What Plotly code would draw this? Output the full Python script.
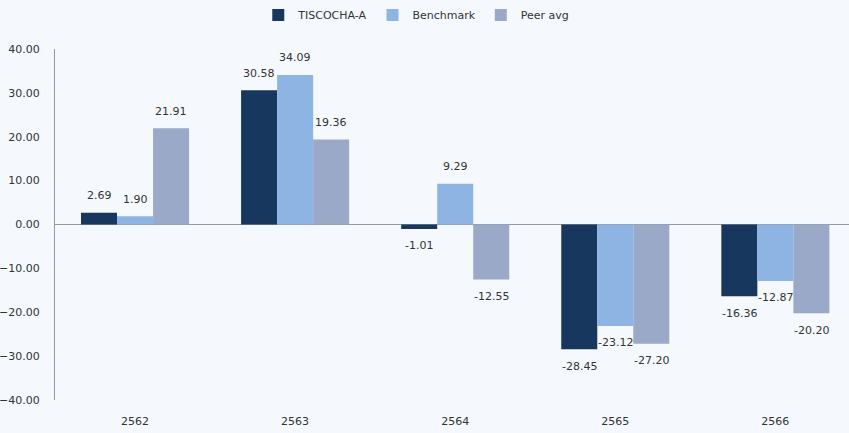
import plotly.graph_objects as go

years = ["2562", "2563", "2564", "2565", "2566"]
fund = [2.69, 30.58, -1.01, -28.45, -16.36]
bench = [1.90, 34.09, 9.29, -23.12, -12.87]
peer = [21.91, 19.36, -12.55, -27.20, -20.20]

names = ["TISCOCHA-A", "Benchmark", "Peer avg"]
colors = ["#17375E", "#8DB4E2", "#9AA9C8"]
series = [fund, bench, peer]

fig = go.Figure()
for n, c, v in zip(names, colors, series):
    fig.add_trace(go.Bar(
        x=years, y=v, name=n, marker=dict(color=c, line=dict(width=0)),
    ))

annotations = []
for i, v in enumerate(series):
    xs = (i - 1) * 36
    for j, val in enumerate(v):
        annotations.append(dict(
            x=j, y=val, xref="x", yref="y", text=f"{val:.2f}", showarrow=False,
            xshift=xs, yshift=(17 if val >= 0 else -17), yanchor="middle",
            font=dict(size=11, color="#333333"),
        ))

bg = "#F5F9FD"
fig.update_layout(
    width=849, height=433,
    paper_bgcolor=bg, plot_bgcolor=bg,
    margin=dict(l=55, r=0, t=49, b=33, autoexpand=False),
    barmode="group", bargap=0.325, bargroupgap=0,
    font=dict(family="DejaVu Sans", size=11, color="#333333"),
    legend=dict(orientation="h", x=0.455, xanchor="center", y=1.097, yanchor="middle",
                font=dict(size=11, color="#333333"), itemwidth=30,
                bgcolor="rgba(0,0,0,0)"),
    annotations=annotations,
)
fig.update_xaxes(type="category", range=[-0.5, 4.46], showgrid=False, showline=False,
                 ticks="outside", ticklen=11, tickcolor="rgba(0,0,0,0)",
                 tickfont=dict(size=11, color="#333333"))
fig.update_yaxes(range=[-40, 40], dtick=10, tickformat=".2f", showgrid=False,
                 showline=True, linecolor="#999999", linewidth=1,
                 zeroline=True, zerolinecolor="#999999", zerolinewidth=1,
                 ticks="outside", ticklen=12, tickcolor="rgba(0,0,0,0)",
                 tickfont=dict(size=11, color="#333333"))

fig.write_html("out.html")
